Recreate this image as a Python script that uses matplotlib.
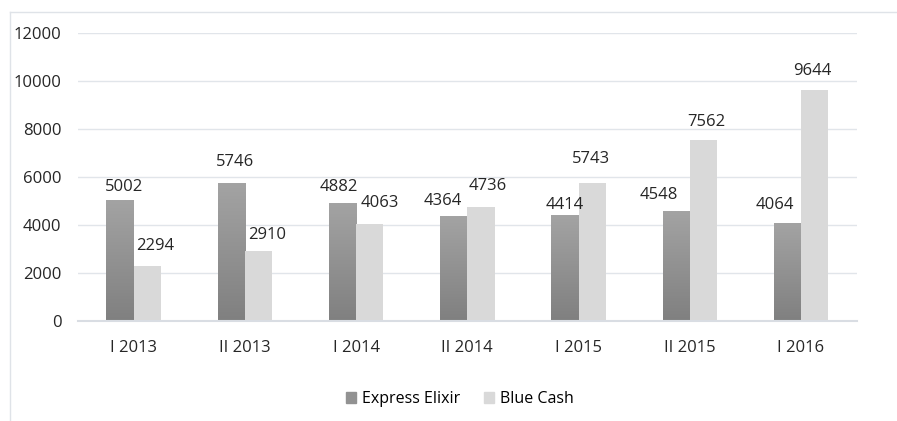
import matplotlib.pyplot as plt
import numpy as np
from matplotlib.colors import LinearSegmentedColormap
from matplotlib.lines import Line2D
from matplotlib.patches import Patch

plt.rcParams['font.family'] = ['Open Sans', 'DejaVu Sans']

periods = ['I 2013', 'II 2013', 'I 2014', 'II 2014', 'I 2015', 'II 2015', 'I 2016']
express = [5002, 5746, 4882, 4364, 4414, 4548, 4064]
blue = [2294, 2910, 4063, 4736, 5743, 7562, 9644]

# label nudges in pixels (dx, dy from bar top), as placed in the original
express_off = [(4, 14), (4, 21), (-4, 17), (-11, 15), (0, 10), (-17, 17), (-13, 18)]
blue_off = [(8, 20), (9, 16), (10, 21), (7, 21), (-1, 24), (3, 18), (-2, 19)]

fig = plt.figure(figsize=(8.97, 4.21), dpi=100)
ax = fig.add_axes([0.087, 0.2375, 0.868, 0.684])

x = np.arange(len(periods))
w = 0.245
grad = np.linspace(0, 1, 100).reshape(-1, 1)
cmap = LinearSegmentedColormap.from_list('g', ['#808080', '#a3a3a3'])
px = 72 / 100  # pixels -> points

for xi, v, (dx, dy) in zip(x, express, express_off):
    # gradient fill, lighter at top
    ax.imshow(grad, extent=(xi - w, xi, 0, v), cmap=cmap, origin='lower', aspect='auto', zorder=2)
    ax.annotate(str(v), (xi - w / 2, v), xytext=(dx * px, dy * px), textcoords='offset points',
                ha='center', va='center', fontsize=12, color='#262626')
ax.bar(x + w / 2, blue, w, color='#d9d9d9', zorder=2)
for xi, v, (dx, dy) in zip(x, blue, blue_off):
    ax.annotate(str(v), (xi + w / 2, v), xytext=(dx * px, dy * px), textcoords='offset points',
                ha='center', va='center', fontsize=12, color='#262626')

ax.set_xlim(-0.5, len(periods) - 0.5)
ax.set_ylim(0, 12000)
ax.set_yticks(range(0, 12001, 2000))
ax.set_xticks(x)
ax.set_xticklabels(periods)
ax.tick_params(length=0, labelsize=12, colors='#262626')
ax.tick_params(axis='x', pad=14)
ax.tick_params(axis='y', pad=12)
ax.grid(axis='y', color='#e1e5ea', lw=1, zorder=0)
for s in ['top', 'right', 'left']:
    ax.spines[s].set_visible(False)
ax.spines['bottom'].set_color('#d9dde3')
ax.spines['bottom'].set_linewidth(1.5)
ax.spines['bottom'].set_zorder(3)

handles = [Patch(color='#929292'), Patch(color='#d9d9d9')]
fig.legend(handles, ['Express Elixir', 'Blue Cash'], loc='center', bbox_to_anchor=(0.513, 0.052),
           ncol=2, frameon=False, fontsize=11.5, handlelength=0.6, handleheight=0.6,
           columnspacing=1.5, handletextpad=0.4)

# outer chart border (cut at right and bottom)
fig.add_artist(Line2D([0.011, 1.0], [0.972, 0.972], color='#dfe3e8', lw=1))
fig.add_artist(Line2D([0.011, 0.011], [0.0, 0.972], color='#dfe3e8', lw=1))

fig.savefig('out.png', dpi=100)
